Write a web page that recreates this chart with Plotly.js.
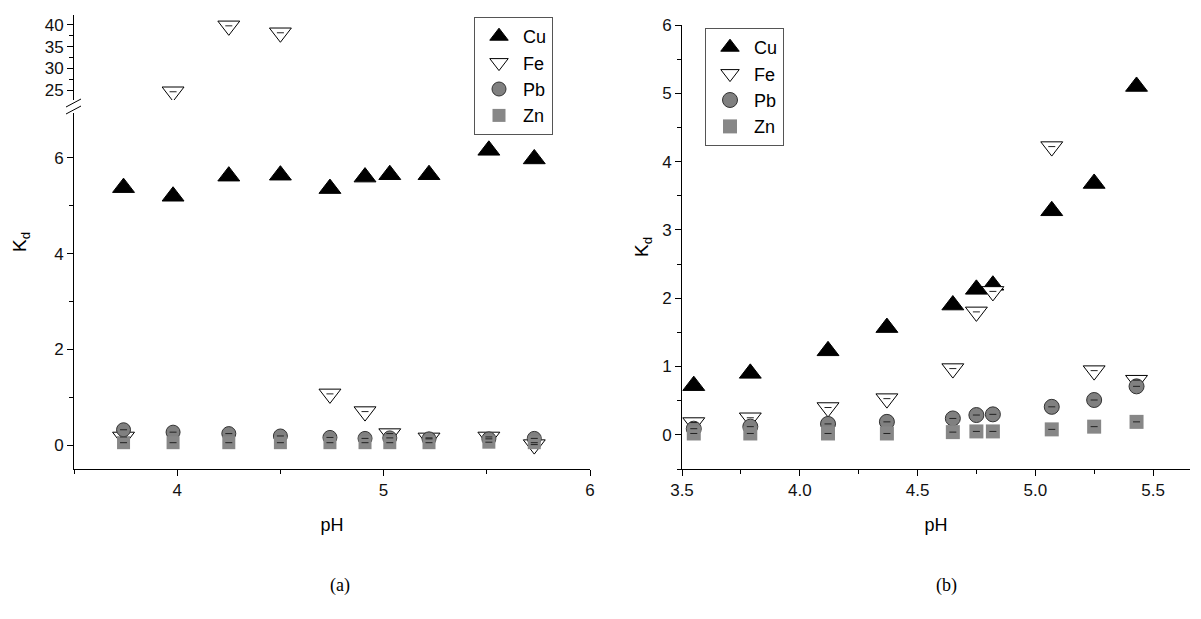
<!DOCTYPE html>
<html>
<head>
<meta charset="utf-8">
<script src="https://cdn.plot.ly/plotly-3.0.1.min.js"></script>
<style>
  html, body { margin: 0; padding: 0; background: #fff; }
  #chart { width: 1201px; height: 619px; }
</style>
</head>
<body>
<div id="chart"></div>
<script>
// ---------- data: panel (a) ----------
const phA = [3.74, 3.98, 4.25, 4.50, 4.74, 4.91, 5.03, 5.22, 5.51, 5.73];
const cuA = [5.38, 5.20, 5.62, 5.64, 5.36, 5.60, 5.65, 5.65, 6.16, 5.98];
const feA = [0.17, 24.6, 39.8, 38.2, 1.07, 0.70, 0.24, 0.15, 0.17, 0.01];
const pbA = [0.32, 0.27, 0.24, 0.19, 0.16, 0.14, 0.15, 0.13, 0.13, 0.14];
const znA = [0.05, 0.05, 0.05, 0.05, 0.05, 0.05, 0.05, 0.05, 0.06, 0.05];

// ---------- data: panel (b) ----------
const phB = [3.55, 3.79, 4.12, 4.37, 4.65, 4.75, 4.82, 5.07, 5.25, 5.43];
const cuB = [0.72, 0.90, 1.23, 1.57, 1.90, 2.13, 2.19, 3.28, 3.68, 5.10];
const feB = [0.18, 0.25, 0.40, 0.53, 0.97, 1.80, 2.10, 4.22, 0.94, 0.80];
const pbB = [0.09, 0.12, 0.16, 0.19, 0.24, 0.29, 0.30, 0.41, 0.51, 0.71];
const znB = [0.02, 0.02, 0.02, 0.02, 0.04, 0.05, 0.05, 0.08, 0.12, 0.19];

const seriesNames = ['Cu', 'Fe', 'Pb', 'Zn'];
const captions = ['(a)', '(b)'];
const xTitle = 'pH';
const yTitle = 'K<sub>d</sub>';

// ---------- geometry helpers (pixels -> paper) ----------
const W = 1201, H = 619;
const fx = p => p / W;
const fy = p => 1 - p / H;

const FONT = 'Arial';
const SERIF = 'Times New Roman';

function styleFor(name, panel) {
  const big = panel === 'b';
  switch (name) {
    case 'Cu': return {symbol: 'triangle-up', size: 19, color: '#000', line: {color: '#000', width: 1}};
    case 'Fe': return {symbol: 'triangle-down', size: 19, color: '#fff', line: {color: '#000', width: 1}};
    case 'Pb': return {symbol: 'circle', size: big ? 15 : 14, color: '#808080', line: {color: '#333', width: 1}};
    case 'Zn': return {symbol: 'square', size: big ? 14 : 13, color: '#878787', line: {color: '#878787', width: 0}};
  }
}

function pts(name, x, y, xa, ya, panel, legend, showlegend) {
  return {
    type: 'scatter', mode: 'markers', name: name, x: x, y: y,
    xaxis: xa, yaxis: ya, legend: legend, showlegend: showlegend,
    marker: styleFor(name, panel), cliponaxis: true, hoverinfo: 'x+y+name'
  };
}
function dash(x, y, xa, ya) {
  return {
    type: 'scatter', mode: 'markers', x: x, y: y, xaxis: xa, yaxis: ya,
    showlegend: false, hoverinfo: 'skip', cliponaxis: true,
    marker: {symbol: 'line-ew', size: 5, color: '#222', line: {color: '#222', width: 1}}
  };
}

const traces = [
  // panel (a)
  pts(seriesNames[0], phA, cuA, 'x', 'y', 'a', 'legend', true),
  pts(seriesNames[1], phA, feA, 'x', 'y', 'a', 'legend', true),
  pts(seriesNames[1], phA, feA, 'x', 'y2', 'a', 'legend', false),
  pts(seriesNames[2], phA, pbA, 'x', 'y', 'a', 'legend', true),
  pts(seriesNames[3], phA, znA, 'x', 'y', 'a', 'legend', true),
  dash(phA, feA, 'x', 'y'), dash(phA, feA, 'x', 'y2'),
  dash(phA, pbA, 'x', 'y'), dash(phA, znA, 'x', 'y'),
  // panel (b)
  pts(seriesNames[0], phB, cuB, 'x2', 'y3', 'b', 'legend2', true),
  pts(seriesNames[1], phB, feB, 'x2', 'y3', 'b', 'legend2', true),
  pts(seriesNames[2], phB, pbB, 'x2', 'y3', 'b', 'legend2', true),
  pts(seriesNames[3], phB, znB, 'x2', 'y3', 'b', 'legend2', true),
  dash(phB, feB, 'x2', 'y3'), dash(phB, pbB, 'x2', 'y3'), dash(phB, znB, 'x2', 'y3')
];

const axBase = {
  showgrid: false, zeroline: false, showline: true, linecolor: '#000', linewidth: 1,
  ticks: 'outside', ticklen: 6, tickwidth: 1, tickcolor: '#000',
  tickfont: {family: FONT, size: 17, color: '#111'}, automargin: false, fixedrange: true
};
const minorBase = {ticks: 'outside', ticklen: 4, tickwidth: 1, tickcolor: '#000'};

const layout = {
  width: W, height: 619,
  margin: {l: 0, r: 0, t: 0, b: 0},
  paper_bgcolor: '#fff', plot_bgcolor: 'rgba(0,0,0,0)',
  font: {family: FONT, color: '#000'},
  showlegend: true,
  xaxis: Object.assign({}, axBase, {
    domain: [fx(74), fx(590)], range: [3.5, 6], anchor: 'y',
    tick0: 0, dtick: 1, minor: Object.assign({dtick: 0.5}, minorBase),
    title: {text: xTitle, font: {family: FONT, size: 18}, standoff: 18}
  }),
  yaxis: Object.assign({}, axBase, {
    domain: [fy(469), fy(113)], range: [-0.5, 6.94], anchor: 'x',
    tick0: 0, dtick: 2, minor: Object.assign({dtick: 1}, minorBase)
  }),
  yaxis2: Object.assign({}, axBase, {
    domain: [fy(100), fy(15)], range: [22.7, 42.3], anchor: 'x',
    tick0: 0, dtick: 5, minor: Object.assign({dtick: 2.5}, minorBase)
  }),
  xaxis2: Object.assign({}, axBase, {
    domain: [fx(682), fx(1190)], range: [3.5, 5.657], anchor: 'y3',
    tick0: 0, dtick: 0.5, tickformat: '.1f', minor: Object.assign({dtick: 0.25}, minorBase),
    title: {text: xTitle, font: {family: FONT, size: 18}, standoff: 18}
  }),
  yaxis3: Object.assign({}, axBase, {
    domain: [fy(469), fy(25)], range: [-0.5, 6], anchor: 'x2',
    tick0: 0, dtick: 1, minor: Object.assign({dtick: 0.5}, minorBase),
    title: {text: yTitle, font: {family: FONT, size: 19}, standoff: 8}
  }),
  legend: {
    x: fx(474), y: fy(17), xanchor: 'left', yanchor: 'top',
    bgcolor: '#fff', bordercolor: '#555', borderwidth: 1,
    font: {family: FONT, size: 18, color: '#000'}, tracegroupgap: 0, itemwidth: 38
  },
  legend2: {
    x: fx(705), y: fy(28), xanchor: 'left', yanchor: 'top',
    bgcolor: '#fff', bordercolor: '#555', borderwidth: 1,
    font: {family: FONT, size: 18, color: '#000'}, tracegroupgap: 0, itemwidth: 38
  },
  shapes: [
    {type: 'line', xref: 'paper', yref: 'paper', x0: fx(66), y0: fy(107), x1: fx(81), y1: fy(99), line: {color: '#000', width: 1}},
    {type: 'line', xref: 'paper', yref: 'paper', x0: fx(66), y0: fy(114), x1: fx(81), y1: fy(106), line: {color: '#000', width: 1}}
  ],
  annotations: [
    {xref: 'paper', yref: 'paper', x: fx(21), y: fy(242), text: yTitle, textangle: -90, showarrow: false,
     font: {family: FONT, size: 19, color: '#000'}, xanchor: 'center', yanchor: 'middle'},
    {xref: 'paper', yref: 'paper', x: fx(340), y: fy(585), text: captions[0], showarrow: false,
     font: {family: SERIF, size: 18, color: '#000'}, xanchor: 'center', yanchor: 'middle'},
    {xref: 'paper', yref: 'paper', x: fx(946), y: fy(585), text: captions[1], showarrow: false,
     font: {family: SERIF, size: 18, color: '#000'}, xanchor: 'center', yanchor: 'middle'}
  ]
};

Plotly.newPlot('chart', traces, layout, {displayModeBar: false, staticPlot: true});
</script>
</body>
</html>
